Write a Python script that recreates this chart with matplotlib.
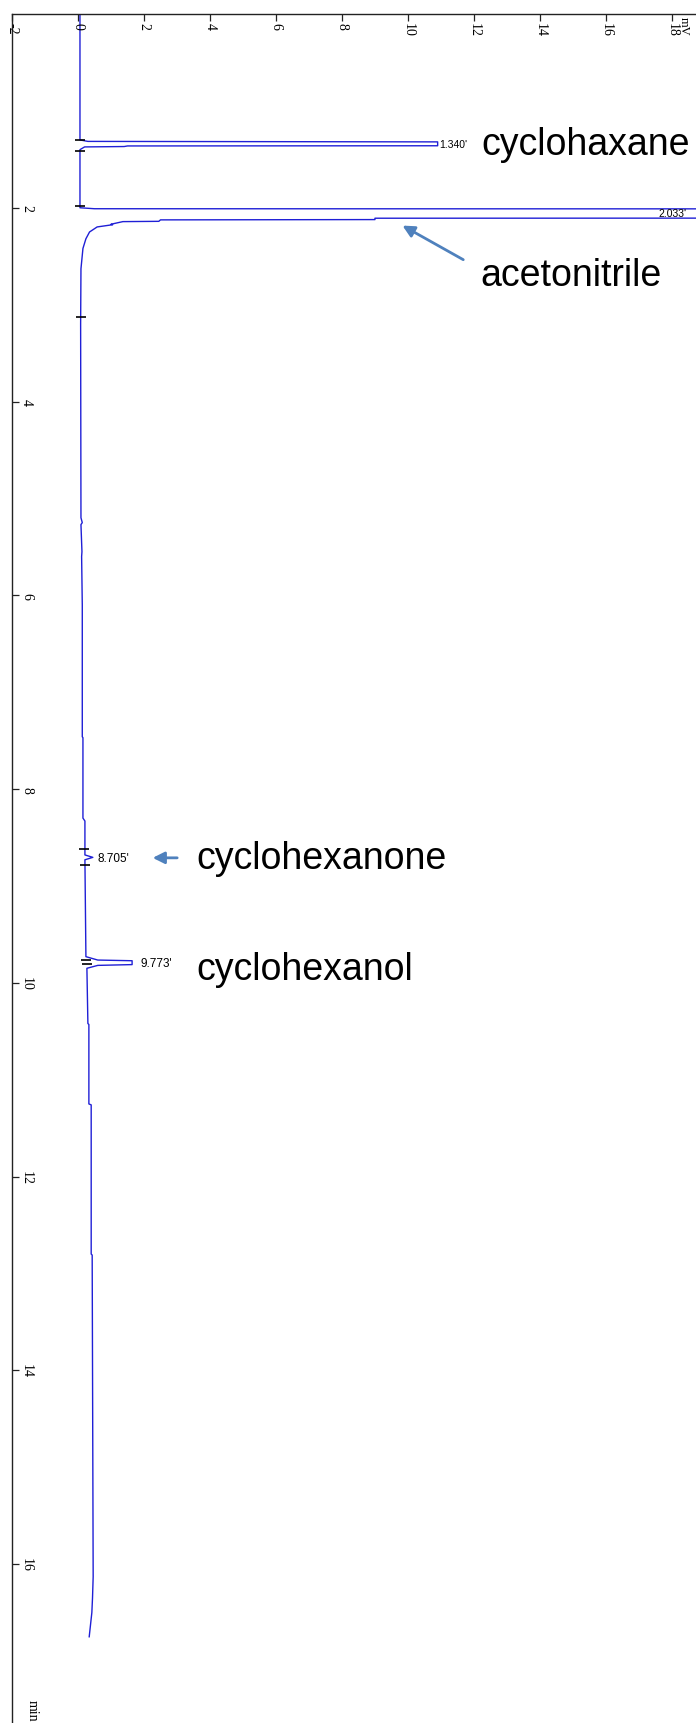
import matplotlib.pyplot as plt

# chromatogram trace: retention time (min) and detector signal (mV)
time_min = [0.0, 1.30, 1.315, 1.32, 1.36, 1.362, 1.368, 1.372, 1.40,
            1.98, 2.0, 2.01, 2.012, 2.106, 2.108, 2.122, 2.125, 2.14, 2.143, 2.17, 2.175, 2.198, 2.25, 2.32, 2.42, 2.63,
            3.2, 5.2, 5.25, 5.27, 5.55, 5.6, 6.1, 7.46, 7.47, 8.30, 8.33, 8.68, 8.705, 8.73, 9.73, 9.765, 9.772, 9.812, 9.82, 9.85,
            10.42, 10.43, 11.25, 11.26, 12.8, 12.81, 16.13, 16.35, 16.5, 16.75]
signal_mv = [0.06, 0.06, 0.30, 10.9, 10.9, 1.5, 1.4, 0.2, 0.06,
             0.06, 0.06, 0.5, 30.0, 30.0, 9.0, 9.0, 2.5, 2.45, 1.36, 1.0, 1.05, 0.58, 0.35, 0.24, 0.15, 0.09,
             0.08, 0.09, 0.13, 0.09, 0.12, 0.11, 0.13, 0.13, 0.15, 0.15, 0.21, 0.21, 0.45, 0.21, 0.24, 0.6, 1.64, 1.64, 0.6, 0.27,
             0.30, 0.33, 0.33, 0.40, 0.40, 0.43, 0.46, 0.44, 0.42, 0.34]

# integration start/end marks
mark_time = [1.30, 1.41, 1.98, 3.13, 8.62, 8.78, 9.76, 9.81]
mark_mv = [0.06, 0.06, 0.06, 0.08, 0.18, 0.21, 0.25, 0.26]

# retention time labels
rt_labels = ["1.340'", "2.033'", "8.705'", "9.773'"]
rt_label_time = [1.34, 2.05, 8.71, 9.80]
rt_label_mv = [10.95, 17.6, 0.6, 1.88]
rt_label_size = [7.5, 7.5, 8.5, 8.5]

# compound names
compounds = ['cyclohaxane', 'acetonitrile', 'cyclohexanone', 'cyclohexanol']
compound_time = [1.45, 2.80, 8.81, 9.96]
compound_mv = [12.24, 12.2, 3.6, 3.6]

# arrows (tail -> tip)
arrow_tail = [(11.75, 2.55), (3.09, 8.71)]
arrow_tip = [(9.76, 2.17), (2.18, 8.71)]

mv_ticks = [-2, 0, 2, 4, 6, 8, 10, 12, 14, 16, 18]
min_ticks = [2, 4, 6, 8, 10, 12, 14, 16]

fig = plt.figure(figsize=(6.96, 17.24), dpi=100)
ax = fig.add_axes([12 / 696, 0, 1 - 12 / 696, 1 - 15 / 1724])

ax.plot(signal_mv, time_min, color='#1f1fd6', lw=1.0)
ax.plot(mark_mv, mark_time, ls='none', marker='_', ms=6.5, mew=1.2, color='black')

ax.set_xlim(-2, 18.73)
ax.set_ylim(17.64, 0)

# axis frame: only top and left visible
for side in ['right', 'bottom']:
    ax.spines[side].set_visible(False)
for side in ['top', 'left']:
    ax.spines[side].set_color('#222222')
    ax.spines[side].set_linewidth(1.0)

ax.xaxis.tick_top()
ax.set_xticks(mv_ticks)
ax.set_yticks(min_ticks)
ax.tick_params(axis='x', direction='in', length=5, width=0.9, labeltop=False, color='#222222')
ax.tick_params(axis='y', direction='in', length=5, width=0.9, labelleft=False, color='#222222')

serif = 'Liberation Serif'
for v in mv_ticks:
    ax.annotate(str(v), xy=(v, 1), xycoords=('data', 'axes fraction'),
                xytext=(0, -8), textcoords='offset pixels', rotation=-90,
                ha='center', va='top', fontsize=10, family=serif)
for t in min_ticks:
    ax.annotate(str(t), xy=(0, t), xycoords=('axes fraction', 'data'),
                xytext=(8, 0), textcoords='offset pixels', rotation=-90,
                ha='left', va='center', fontsize=10, family=serif)
ax.annotate('mV', xy=(18, 1), xycoords=('data', 'axes fraction'),
            xytext=(12, -2), textcoords='offset pixels', rotation=-90,
            ha='center', va='top', fontsize=9, family=serif)
ax.annotate('min', xy=(0, 0), xycoords='axes fraction',
            xytext=(14, 2), textcoords='offset pixels', rotation=-90,
            ha='left', va='bottom', fontsize=10, family=serif)

for lbl, t, v, s in zip(rt_labels, rt_label_time, rt_label_mv, rt_label_size):
    ax.text(v, t, lbl, fontsize=s, family='Liberation Sans', ha='left', va='center')

for name, t, v in zip(compounds, compound_time, compound_mv):
    ax.text(v, t, name, fontsize=27, family='Liberation Sans', ha='left', va='baseline')

for (x0, y0), (x1, y1) in zip(arrow_tail, arrow_tip):
    ax.annotate('', xy=(x1, y1), xytext=(x0, y0),
                arrowprops=dict(arrowstyle='-|>,head_length=0.7,head_width=0.35',
                                color='#4F81BD', lw=2))

fig.savefig('out.png', dpi=100)
